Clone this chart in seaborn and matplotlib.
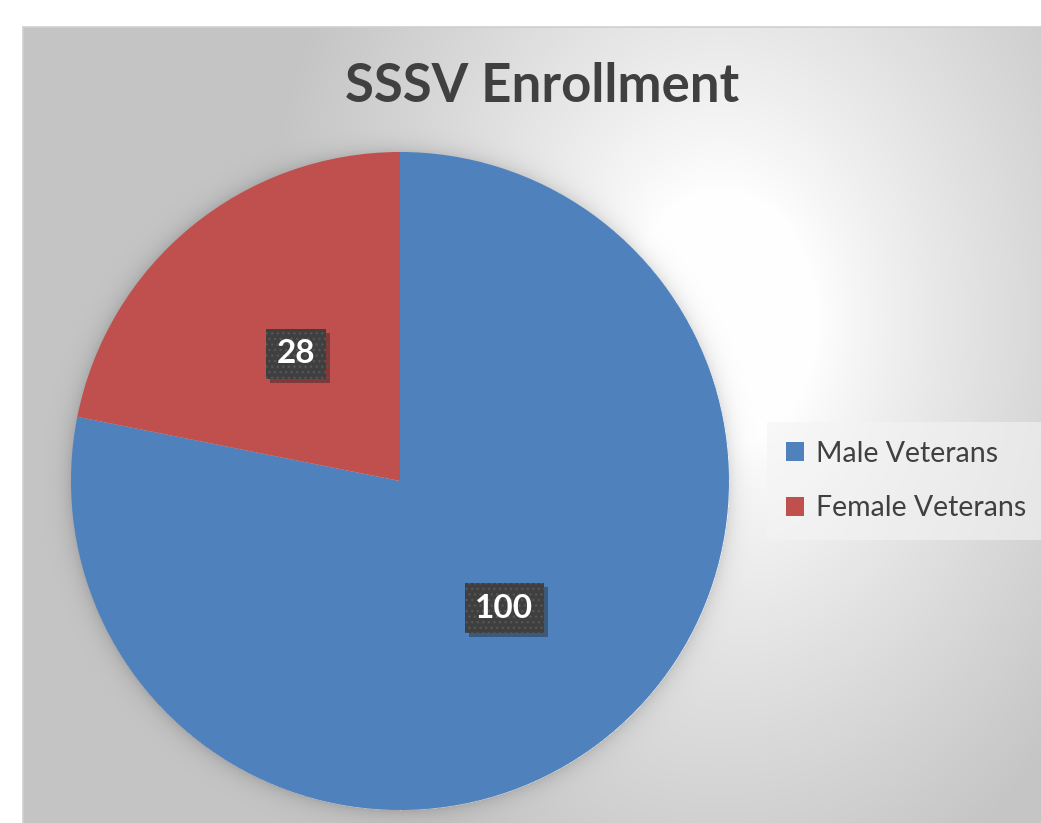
import numpy as np
import matplotlib
matplotlib.use("Agg")
import matplotlib.pyplot as plt
import matplotlib.patheffects as pe
import seaborn as sns

# data
categories = ['Male Veterans', 'Female Veterans']
counts = [100, 28]
slice_colors = ['#4F81BD', '#C0504D']
chart_title = 'SSSV Enrollment'

W, H = 1041, 823
sns.set_theme(style='white')
plt.rcParams['font.family'] = ['Lato', 'DejaVu Sans']

fig = plt.figure(figsize=(W / 100, H / 100), dpi=100)
fig.patch.set_facecolor('white')

# ---- background: radial gradient + soft pie shadow (pixel grid) ----
x0, y0 = 23, 27
bw, bh = W - x0, H - y0
xx, yy = np.meshgrid(np.arange(bw) + x0, np.arange(bh) + y0)
rr = np.sqrt(((xx - 720) / 430.0) ** 2 + ((yy - 320) / 580.0) ** 2)
t = np.clip((rr - 0.22) / 0.85, 0, 1) ** 0.85
grey = 255 - 58 * t
pc_x, pc_y, pr = 400, 481, 329
d = np.sqrt((xx - pc_x) ** 2 + (yy - pc_y) ** 2) - pr
grey = grey - np.where(d > 0, 28 * np.exp(-d / 9.0), 0)
img = np.clip(grey, 0, 255) / 255.0
bg = fig.add_axes([x0 / W, 0, bw / W, bh / H])
bg.imshow(np.dstack([img, img, img]), aspect='auto', interpolation='bilinear')
bg.set_axis_off()
# thin frame line on top / left
fig.add_artist(plt.Line2D([x0 / W, 1], [1 - y0 / H, 1 - y0 / H], color='#CFCFCF', lw=1.2))
fig.add_artist(plt.Line2D([x0 / W, x0 / W], [0, 1 - y0 / H], color='#CFCFCF', lw=1.2))

# ---- pie ----
ax = fig.add_axes([(pc_x - pr) / W, (H - pc_y - pr) / H, 2 * pr / W, 2 * pr / H])
total = sum(counts)
wedges, texts, autotexts = ax.pie(
    counts, colors=slice_colors, startangle=90, counterclock=False,
    autopct=lambda p: f'{p * total / 100:.0f}', pctdistance=0.5,
    wedgeprops=dict(linewidth=0),
    textprops=dict(color='white', fontsize=24, fontweight='bold'))
ax.set_xlim(-1, 1)
ax.set_ylim(-1, 1)
ax.set_aspect('auto')
ax.set_axis_off()

for at in autotexts:
    at.set_bbox(dict(boxstyle='square,pad=0.32', facecolor='#3F3F3F',
                     edgecolor='#555555', linewidth=0, hatch='...'))
    at.get_bbox_patch().set_path_effects(
        [pe.SimplePatchShadow(offset=(3, -3), shadow_rgbFace='black', alpha=0.3), pe.Normal()])

# ---- title ----
fig.text(542 / W, 1 - 86 / H, chart_title, ha='center', va='center',
         fontsize=38, fontweight='bold', color='#404040')

# ---- legend ----
leg = fig.legend(wedges, categories, loc='center left',
                 bbox_to_anchor=(776 / W, 1 - 481 / H), fontsize=20.5,
                 frameon=True, handlelength=0.65, handleheight=0.65,
                 handletextpad=0.4, labelspacing=1.0, borderpad=0.35,
                 borderaxespad=0)
leg.get_frame().set_facecolor('#F4F4F4')
leg.get_frame().set_alpha(0.6)
leg.get_frame().set_linewidth(0)
leg.get_frame().set_boxstyle('square')
for txt in leg.get_texts():
    txt.set_color('#404040')

fig.savefig('out.png', dpi=100)
